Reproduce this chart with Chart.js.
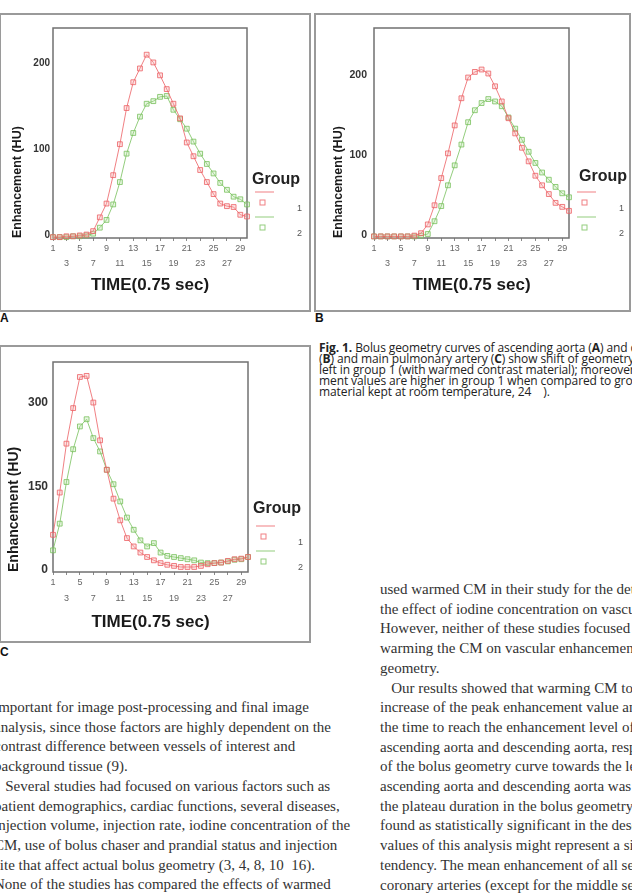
<!DOCTYPE html>
<html lang="en">
<head>
<meta charset="UTF-8">
<title>Fig. 1 Bolus geometry curves</title>
<style>
    html, body { margin: 0; padding: 0; background: #fff; }
    body { width: 632px; height: 895px; position: relative; overflow: hidden; }
    .panel { position: absolute; border: 2px solid #9a9a9a; box-sizing: border-box; }
    canvas { position: absolute; }
    .tag { position: absolute; font: bold 12px "Liberation Sans", Arial, sans-serif; color: #111; line-height: 12px; }
    .cap { position: absolute; left: 319px; font: 12px "Open Sans", sans-serif; color: #222; white-space: nowrap; line-height: 11px; letter-spacing: -0.1px; }
    .txt { position: absolute; font: 15px "Liberation Serif", serif; color: #333; white-space: nowrap; line-height: 19.7px; }
</style>
</head>
<body>
<!-- 그림 패널 테두리 -->
<div class="panel" style="left:-1px;top:13px;width:312px;height:299px"></div>
<div class="panel" style="left:314px;top:13px;width:317px;height:299px"></div>
<div class="panel" style="left:-1px;top:345px;width:312px;height:298px"></div>

<canvas id="chartA" width="311" height="298" style="left:0;top:13px"></canvas>
<canvas id="chartB" width="317" height="298" style="left:314px;top:13px"></canvas>
<canvas id="chartC" width="311" height="297" style="left:0;top:345px"></canvas>

<div class="tag" style="left:0;top:312px">A</div>
<div class="tag" style="left:315px;top:312px">B</div>
<div class="tag" style="left:0;top:646px">C</div>

<!-- 캡션 -->
<div class="cap" style="top:342px"><b>Fig. 1.</b> Bolus geometry curves of ascending aorta (<b>A</b>) and desc</div>
<div class="cap" style="top:353px">(<b>B</b>) and main pulmonary artery (<b>C</b>) show shift of geometry to</div>
<div class="cap" style="top:364px">left in group 1 (with warmed contrast material); moreover, enh</div>
<div class="cap" style="top:375px">ment values are higher in group 1 when compared to group</div>
<div class="cap" style="top:386px">material kept at room temperature, 24&nbsp;&nbsp;&nbsp;&nbsp;).</div>

<!-- 본문 왼쪽 -->
<div class="txt" style="left:-6px;top:698px">important for image post-processing and final image<br>analysis, since those factors are highly dependent on the<br>contrast difference between vessels of interest and<br>background tissue (9).<br>&nbsp;&nbsp;&nbsp;Several studies had focused on various factors such as<br>patient demographics, cardiac functions, several diseases,<br>injection volume, injection rate, iodine concentration of the<br>CM, use of bolus chaser and prandial status and injection<br>site that affect actual bolus geometry (3, 4, 8, 10&nbsp;&nbsp;16).<br>None of the studies has compared the effects of warmed</div>

<!-- 본문 오른쪽 -->
<div class="txt" style="left:380px;top:580px">used warmed CM in their study for the determination<br>the effect of iodine concentration on vascular<br>However, neither of these studies focused on<br>warming the CM on vascular enhancement<br>geometry.<br>&nbsp;&nbsp;&nbsp;Our results showed that warming CM to<br>increase of the peak enhancement value and<br>the time to reach the enhancement level of<br>ascending aorta and descending aorta, respectively<br>of the bolus geometry curve towards the left<br>ascending aorta and descending aorta was<br>the plateau duration in the bolus geometry<br>found as statistically significant in the descending<br>values of this analysis might represent a significant<br>tendency. The mean enhancement of all segments<br>coronary arteries (except for the middle segment</div>

<script src="https://cdn.jsdelivr.net/npm/chart.js"></script>
<script>
// 시간 축 (0.75초 단위)
const timePoints = [1, 2, 3, 4, 5, 6, 7, 8, 9, 10, 11, 12, 13, 14, 15, 16, 17, 18, 19, 20, 21, 22, 23, 24, 25, 26, 27, 28, 29, 30];
const groupLabels = ['1', '2'];

// A: ascending aorta
const ascAortaG1 = [-2, -2, -1, -1, 0, 1, 5, 21, 37, 70, 106, 148, 178, 194, 210, 201, 186, 170, 153, 136, 108, 92, 76, 62, 48, 37, 34, 33, 24, 22];
const ascAortaG2 = [-2, -2, -2, -1, -1, 0, 2, 9, 18, 36, 62, 95, 119, 138, 153, 156, 161, 162, 146, 135, 124, 109, 95, 83, 72, 61, 53, 45, 42, 36];
// B: descending aorta
const descAortaG1 = [-2, -2, -2, -2, -2, -2, -1, 2, 13, 37, 71, 102, 137, 171, 197, 204, 207, 202, 186, 167, 146, 127, 109, 92, 74, 62, 51, 40, 35, 30];
const descAortaG2 = [-2, -2, -2, -2, -2, -2, -2, -1, 1, 17, 36, 62, 87, 113, 141, 156, 165, 170, 167, 161, 147, 133, 119, 104, 90, 78, 69, 60, 52, 47];
// C: main pulmonary artery
const pulmArtG1 = [63, 139, 227, 291, 347, 349, 301, 233, 180, 128, 89, 57, 42, 31, 23, 17, 12, 9, 7, 5, 5, 5, 7, 10, 12, 13, 16, 19, 20, 23];
const pulmArtG2 = [35, 83, 158, 217, 258, 271, 237, 213, 180, 154, 123, 94, 72, 53, 42, 48, 31, 25, 23, 21, 19, 17, 13, 12, 12, 13, 15, 18, 19, 23];

const yTicksAB = [0, 100, 200];
const yTicksC = [0, 150, 300];

const redLine = 'rgba(236, 96, 100, 0.8)';
const greenLine = 'rgba(120, 192, 92, 0.8)';
const fontName = '"Liberation Sans", Arial, sans-serif';

// 플롯 테두리
const plotFrame = {
    id: 'plotFrame',
    beforeDatasetsDraw(chart) {
        const { ctx, chartArea: a } = chart;
        ctx.save();
        ctx.strokeStyle = '#707070';
        ctx.lineWidth = 1.5;
        ctx.strokeRect(a.left, a.top, a.right - a.left, a.bottom - a.top);
        ctx.restore();
    }
};

// SPSS 스타일 범례 (Group)
const groupLegend = {
    id: 'groupLegend',
    afterDraw(chart, args, opts) {
        const { ctx, chartArea: { right, bottom } } = chart;
        ctx.save();
        ctx.textBaseline = 'middle';
        ctx.textAlign = 'left';
        ctx.fillStyle = '#222';
        ctx.font = 'bold 16px ' + fontName;
        ctx.fillText('Group', right + opts.titleX, bottom - opts.titleY);
        chart.data.datasets.forEach((ds, i) => {
            const y0 = bottom - 46 + i * 25;
            ctx.strokeStyle = ds.borderColor;
            ctx.lineWidth = 1;
            ctx.beginPath();
            ctx.moveTo(right + 8, y0);
            ctx.lineTo(right + 27, y0);
            ctx.stroke();
            ctx.strokeRect(right + 13, y0 + 8, 5, 5);
            ctx.fillStyle = '#555';
            ctx.font = '9px ' + fontName;
            ctx.fillText(ds.label, right + 50, y0 + 17);
        });
        ctx.restore();
    }
};

function series(label, values, color, fill) {
    return {
        label: label,
        data: values,
        borderColor: color,
        borderWidth: 1,
        tension: 0,
        pointStyle: 'rect',
        pointRadius: 3.4,
        pointBorderWidth: 1,
        pointBorderColor: color,
        pointBackgroundColor: fill,
        clip: false
    };
}

function bolusChart(id, o) {
    return new Chart(document.getElementById(id), {
        type: 'line',
        data: {
            labels: timePoints,
            datasets: [
                series(groupLabels[0], o.g1, redLine, 'rgba(245, 170, 170, 0.3)'),
                series(groupLabels[1], o.g2, greenLine, 'rgba(180, 225, 160, 0.3)')
            ]
        },
        options: {
            responsive: false,
            animation: false,
            layout: { padding: { top: o.top, right: o.right, left: 0, bottom: 0 } },
            plugins: {
                legend: { display: false },
                tooltip: { enabled: false },
                groupLegend: { titleX: o.legendX, titleY: o.legendY }
            },
            scales: {
                x: {
                    type: 'category',
                    grid: {
                        drawOnChartArea: false,
                        drawTicks: true,
                        tickLength: 3,
                        color: ctx => (ctx.index % 2 === 0 ? '#8a8a8a' : 'rgba(0,0,0,0)')
                    },
                    border: { display: false },
                    afterFit: s => { s.height = o.xHeight; },
                    ticks: {
                        autoSkip: false,
                        maxRotation: 0,
                        padding: o.xPad,
                        color: '#666',
                        font: { family: fontName, size: 9, lineHeight: 1.67 },
                        callback: function (v, i) {
                            const lbl = String(timePoints[i]);
                            if (i % 4 === 0) return [lbl, ''];
                            if (i % 4 === 2) return ['', lbl];
                            return '';
                        }
                    },
                    title: {
                        display: true,
                        text: 'TIME(0.75 sec)',
                        color: '#1a1a1a',
                        font: { family: fontName, size: 17, weight: 'bold', lineHeight: 1.2 },
                        padding: { top: 0, bottom: o.xTitlePad }
                    }
                },
                y: {
                    min: o.yMin,
                    max: o.yMax,
                    grid: { display: false, drawTicks: false },
                    border: { display: false },
                    afterFit: s => { s.width = o.yWidth; },
                    afterBuildTicks: s => { s.ticks = o.yTicks.map(v => ({ value: v })); },
                    ticks: {
                        padding: o.yPad,
                        color: '#333',
                        font: { family: fontName, size: o.yTickSize, weight: 'bold' }
                    },
                    title: {
                        display: true,
                        text: 'Enhancement (HU)',
                        align: 'start',
                        color: '#1a1a1a',
                        font: { family: fontName, size: o.yTitleSize, weight: 'bold', lineHeight: 1.2 },
                        padding: { top: o.yTitlePad, bottom: 0 }
                    }
                }
            }
        },
        plugins: [plotFrame, groupLegend]
    });
}

bolusChart('chartA', {
    g1: ascAortaG1, g2: ascAortaG2, yMin: -3, yMax: 241, yTicks: yTicksAB,
    top: 15, right: 64, yWidth: 53, xHeight: 73, xPad: 0, xTitlePad: 15.8,
    yPad: 3, yTickSize: 10, yTitleSize: 12.5, yTitlePad: 10.5, legendX: 5, legendY: 58
});
bolusChart('chartB', {
    g1: descAortaG1, g2: descAortaG2, yMin: -4, yMax: 259, yTicks: yTicksAB,
    top: 15, right: 62, yWidth: 60, xHeight: 73, xPad: 0, xTitlePad: 15.8,
    yPad: 7, yTickSize: 10.5, yTitleSize: 12.5, yTitlePad: 17.5, legendX: 10, legendY: 61
});
bolusChart('chartC', {
    g1: pulmArtG1, g2: pulmArtG2, yMin: -4, yMax: 374, yTicks: yTicksC,
    top: 17, right: 63, yWidth: 53, xHeight: 70, xPad: 0.5, xTitlePad: 9.8,
    yPad: 5, yTickSize: 12, yTitleSize: 14, yTitlePad: 5.6, legendX: 5, legendY: 63
});
</script>
</body>
</html>
